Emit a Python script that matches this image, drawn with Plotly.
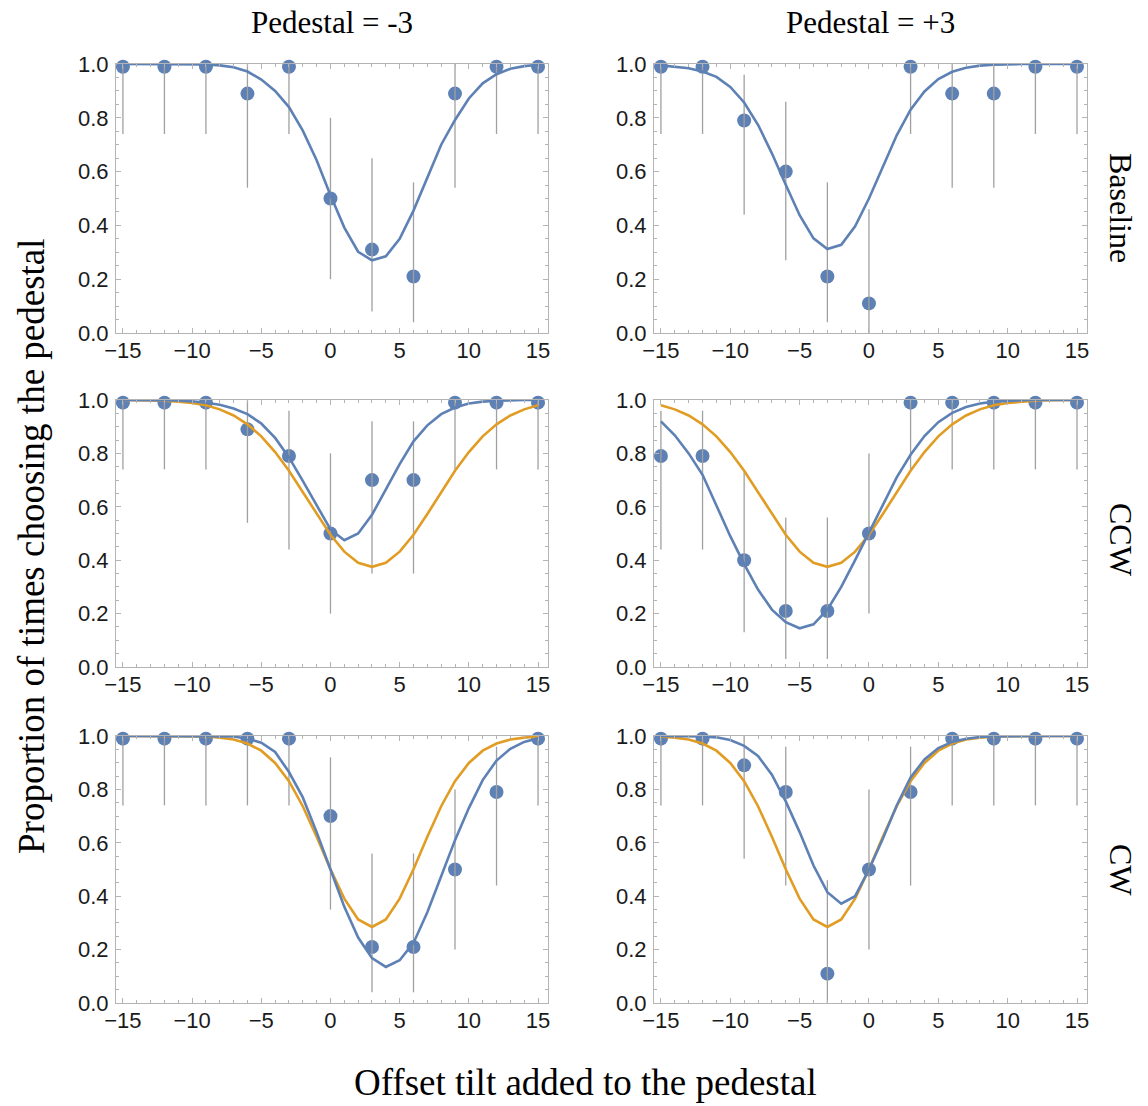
import plotly.graph_objects as go

# Offset tilts that were tested, and the grid the fitted curves are evaluated on
x_data = [-15, -12, -9, -6, -3, 0, 3, 6, 9, 12, 15]
x_fit = list(range(-15, 16))

col_titles = ["Pedestal = -3", "Pedestal = +3"]
row_titles = ["Baseline", "CCW", "CW"]

# ---- Baseline, pedestal -3 ----
base_neg_y = [0.99, 0.99, 0.99, 0.89, 0.99, 0.50, 0.31, 0.21, 0.89, 0.99, 0.99]
base_neg_lo = [0.74, 0.74, 0.74, 0.54, 0.74, 0.20, 0.08, 0.04, 0.54, 0.74, 0.74]
base_neg_hi = [1.0, 1.0, 1.0, 1.0, 1.0, 0.80, 0.65, 0.56, 1.0, 1.0, 1.0]
base_neg_fit = [1.0, 1.0, 1.0, 1.0, 1.0, 1.0, 0.998, 0.995, 0.988, 0.972, 0.942,
                0.900, 0.840, 0.752, 0.642, 0.512, 0.392, 0.302, 0.270, 0.285, 0.350,
                0.455, 0.578, 0.700, 0.792, 0.872, 0.928, 0.962, 0.982, 0.992, 0.997]

# ---- Baseline, pedestal +3 ----
base_pos_y = [0.99, 0.99, 0.79, 0.60, 0.21, 0.11, 0.99, 0.89, 0.89, 0.99, 0.99]
base_pos_lo = [0.74, 0.74, 0.44, 0.27, 0.04, 0.0, 0.74, 0.54, 0.54, 0.74, 0.74]
base_pos_hi = [1.0, 1.0, 0.96, 0.86, 0.56, 0.46, 1.0, 1.0, 1.0, 1.0, 1.0]
base_pos_fit = [0.995, 0.990, 0.984, 0.972, 0.952, 0.915, 0.857, 0.774, 0.668, 0.551,
                0.438, 0.352, 0.312, 0.328, 0.397, 0.500, 0.620, 0.735, 0.830, 0.898,
                0.944, 0.971, 0.986, 0.994, 0.997, 0.999, 1.0, 1.0, 1.0, 1.0, 1.0]

# ---- CCW, pedestal -3 ----
ccw_neg_y = [0.99, 0.99, 0.99, 0.89, 0.79, 0.50, 0.70, 0.70, 0.99, 0.99, 0.99]
ccw_neg_lo = [0.74, 0.74, 0.74, 0.54, 0.44, 0.20, 0.35, 0.35, 0.74, 0.74, 0.74]
ccw_neg_hi = [1.0, 1.0, 1.0, 1.0, 0.96, 0.80, 0.92, 0.92, 1.0, 1.0, 1.0]
ccw_neg_fit = [1.0, 1.0, 1.0, 0.999, 0.998, 0.995, 0.990, 0.982, 0.968, 0.947, 0.912,
               0.858, 0.785, 0.697, 0.605, 0.515, 0.475, 0.500, 0.570, 0.665, 0.760,
               0.845, 0.905, 0.947, 0.972, 0.987, 0.994, 0.997, 0.999, 1.0, 1.0]
ccw_neg_ref = [1.0, 0.999, 0.999, 0.997, 0.994, 0.989, 0.980, 0.965, 0.942, 0.909,
               0.864, 0.805, 0.735, 0.655, 0.573, 0.495, 0.432, 0.390, 0.375, 0.390,
               0.432, 0.495, 0.573, 0.655, 0.735, 0.805, 0.864, 0.909, 0.942, 0.965, 0.980]

# ---- CCW, pedestal +3 ----
ccw_pos_y = [0.79, 0.79, 0.40, 0.21, 0.21, 0.50, 0.99, 0.99, 0.99, 0.99, 0.99]
ccw_pos_lo = [0.44, 0.44, 0.13, 0.03, 0.03, 0.20, 0.74, 0.74, 0.74, 0.74, 0.74]
ccw_pos_hi = [0.96, 0.96, 0.73, 0.56, 0.56, 0.80, 1.0, 1.0, 1.0, 1.0, 1.0]
ccw_pos_fit = [0.920, 0.868, 0.800, 0.720, 0.605, 0.490, 0.385, 0.290, 0.215, 0.168,
               0.145, 0.160, 0.215, 0.300, 0.400, 0.505, 0.610, 0.710, 0.795, 0.865,
               0.917, 0.952, 0.974, 0.987, 0.994, 0.997, 0.999, 1.0, 1.0, 1.0, 1.0]
ccw_pos_ref = [0.980, 0.965, 0.942, 0.909, 0.864, 0.805, 0.735, 0.655, 0.573, 0.495,
               0.432, 0.390, 0.375, 0.390, 0.432, 0.495, 0.573, 0.655, 0.735, 0.805,
               0.864, 0.909, 0.942, 0.965, 0.980, 0.989, 0.994, 0.997, 0.999, 0.999, 1.0]

# ---- CW, pedestal -3 ----
cw_neg_y = [0.99, 0.99, 0.99, 0.99, 0.99, 0.70, 0.21, 0.21, 0.50, 0.79, 0.99]
cw_neg_lo = [0.74, 0.74, 0.74, 0.74, 0.74, 0.35, 0.04, 0.04, 0.20, 0.44, 0.74]
cw_neg_hi = [1.0, 1.0, 1.0, 1.0, 1.0, 0.92, 0.56, 0.56, 0.80, 0.96, 1.0]
cw_neg_fit = [1.0, 1.0, 1.0, 1.0, 1.0, 1.0, 1.0, 1.0, 0.998, 0.990, 0.975, 0.940,
              0.865, 0.770, 0.640, 0.500, 0.360, 0.245, 0.168, 0.135, 0.160, 0.225,
              0.340, 0.475, 0.610, 0.730, 0.835, 0.908, 0.952, 0.978, 0.992]
cw_neg_ref = [1.0, 1.0, 1.0, 1.0, 0.999, 0.999, 0.998, 0.994, 0.987, 0.972, 0.945,
              0.899, 0.831, 0.737, 0.623, 0.501, 0.391, 0.313, 0.285, 0.313, 0.391,
              0.501, 0.623, 0.737, 0.831, 0.899, 0.945, 0.972, 0.987, 0.994, 0.998]

# ---- CW, pedestal +3 ----
cw_pos_y = [0.99, 0.99, 0.89, 0.79, 0.11, 0.50, 0.79, 0.99, 0.99, 0.99, 0.99]
cw_pos_lo = [0.74, 0.74, 0.54, 0.44, 0.0, 0.20, 0.44, 0.74, 0.74, 0.74, 0.74]
cw_pos_hi = [1.0, 1.0, 1.0, 0.96, 0.46, 0.80, 0.96, 1.0, 1.0, 1.0, 1.0]
cw_pos_fit = [1.0, 1.0, 0.999, 0.998, 0.995, 0.985, 0.963, 0.925, 0.855, 0.755, 0.640,
              0.515, 0.415, 0.372, 0.400, 0.500, 0.615, 0.740, 0.845, 0.912, 0.955,
              0.978, 0.990, 0.996, 0.998, 0.999, 1.0, 1.0, 1.0, 1.0, 1.0]
cw_pos_ref = [0.998, 0.994, 0.987, 0.972, 0.945, 0.899, 0.831, 0.737, 0.623, 0.501,
              0.391, 0.313, 0.285, 0.313, 0.391, 0.501, 0.623, 0.737, 0.831, 0.899,
              0.945, 0.972, 0.987, 0.994, 0.998, 0.999, 0.999, 1.0, 1.0, 1.0, 1.0]

BLUE = "#5e81b5"
ORANGE = "#e19c24"
FRAME = "#b4b4b4"
BAR = "#a0a0a0"

panels = [
    (0, 0, base_neg_y, base_neg_lo, base_neg_hi, base_neg_fit, None),
    (0, 1, base_pos_y, base_pos_lo, base_pos_hi, base_pos_fit, None),
    (1, 0, ccw_neg_y, ccw_neg_lo, ccw_neg_hi, ccw_neg_fit, ccw_neg_ref),
    (1, 1, ccw_pos_y, ccw_pos_lo, ccw_pos_hi, ccw_pos_fit, ccw_pos_ref),
    (2, 0, cw_neg_y, cw_neg_lo, cw_neg_hi, cw_neg_fit, cw_neg_ref),
    (2, 1, cw_pos_y, cw_pos_lo, cw_pos_hi, cw_pos_fit, cw_pos_ref),
]

W, H = 1148, 1106
col_px = [(116, 548), (654, 1087)]
row_px = [(64, 333), (400, 667), (736, 1003)]

fig = go.Figure()
layout = {}

tick_font = dict(family="Liberation Sans", size=22, color="#1a1a1a")

for i, (r, c, y, lo, hi, fit, ref) in enumerate(panels, start=1):
    xa = "x" if i == 1 else f"x{i}"
    ya = "y" if i == 1 else f"y{i}"

    # data points
    fig.add_trace(go.Scatter(
        x=x_data, y=y, mode="markers", xaxis=xa, yaxis=ya,
        marker=dict(color=BLUE, size=14), cliponaxis=False, hoverinfo="skip"))
    # confidence intervals drawn over the points
    fig.add_trace(go.Scatter(
        x=x_data, y=y, mode="markers", xaxis=xa, yaxis=ya,
        marker=dict(size=1, opacity=0), cliponaxis=False, hoverinfo="skip",
        error_y=dict(type="data", symmetric=False,
                     array=[h - v for h, v in zip(hi, y)],
                     arrayminus=[v - l for v, l in zip(y, lo)],
                     color=BAR, thickness=1.3, width=0)))
    # reference (baseline-shifted) curve
    if ref is not None:
        fig.add_trace(go.Scatter(
            x=x_fit, y=ref, mode="lines", xaxis=xa, yaxis=ya,
            line=dict(color=ORANGE, width=2.6), hoverinfo="skip"))
    # fitted curve
    fig.add_trace(go.Scatter(
        x=x_fit, y=fit, mode="lines", xaxis=xa, yaxis=ya,
        line=dict(color=BLUE, width=2.6), hoverinfo="skip"))

    x0, x1 = col_px[c]
    y0, y1 = row_px[r]
    layout["xaxis" if i == 1 else f"xaxis{i}"] = dict(
        domain=[x0 / W, x1 / W], anchor=ya, range=[-15.5, 15.72],
        tickmode="linear", tick0=0, dtick=5,
        ticks="inside", ticklen=5, tickwidth=1, tickcolor=FRAME,
        minor=dict(ticks="inside", tick0=0, dtick=1, ticklen=3, tickwidth=1,
                   tickcolor=FRAME, showgrid=False),
        showline=True, linecolor=FRAME, linewidth=1, mirror="ticks",
        showgrid=False, zeroline=False, tickfont=tick_font, ticklabelstandoff=-2,
        automargin=False)
    layout["yaxis" if i == 1 else f"yaxis{i}"] = dict(
        domain=[1 - y1 / H, 1 - y0 / H], anchor=xa, range=[0, 1.0],
        tickmode="linear", tick0=0, dtick=0.2, tickformat=".1f",
        ticks="inside", ticklen=5, tickwidth=1, tickcolor=FRAME,
        minor=dict(ticks="inside", tick0=0, dtick=0.05, ticklen=3, tickwidth=1,
                   tickcolor=FRAME, showgrid=False),
        showline=True, linecolor=FRAME, linewidth=1, mirror="ticks",
        showgrid=False, zeroline=False, tickfont=tick_font, ticklabelstandoff=2,
        automargin=False)

serif = "Liberation Serif"
annotations = []
for c, t in enumerate(col_titles):
    annotations.append(dict(text=t, x=sum(col_px[c]) / 2 / W, y=1 - 22 / H,
                            xref="paper", yref="paper", showarrow=False,
                            xanchor="center", yanchor="middle",
                            font=dict(family=serif, size=31, color="black")))
for r, (t, yc) in enumerate(zip(row_titles, [208, 540, 870])):
    annotations.append(dict(text=t, x=1121 / W, y=1 - yc / H,
                            xref="paper", yref="paper", showarrow=False,
                            textangle=90, xanchor="center", yanchor="middle",
                            font=dict(family=serif, size=32, color="black")))
annotations.append(dict(text="Proportion of times choosing the pedestal",
                        x=31 / W, y=1 - 546 / H, xref="paper", yref="paper",
                        showarrow=False, textangle=-90, xanchor="center",
                        yanchor="middle",
                        font=dict(family=serif, size=37, color="black")))
annotations.append(dict(text="Offset tilt added to the pedestal",
                        x=585 / W, y=1 - 1082 / H, xref="paper", yref="paper",
                        showarrow=False, xanchor="center", yanchor="middle",
                        font=dict(family=serif, size=37, color="black")))

fig.update_layout(
    width=W, height=H, margin=dict(l=0, r=0, t=0, b=0, pad=0), autosize=False,
    paper_bgcolor="white", plot_bgcolor="white", showlegend=False,
    annotations=annotations, **layout)

# the page body gets no default margin so the figure fills the window exactly
fig.write_html("out.html",
               post_script="document.body.style.margin='0';")
